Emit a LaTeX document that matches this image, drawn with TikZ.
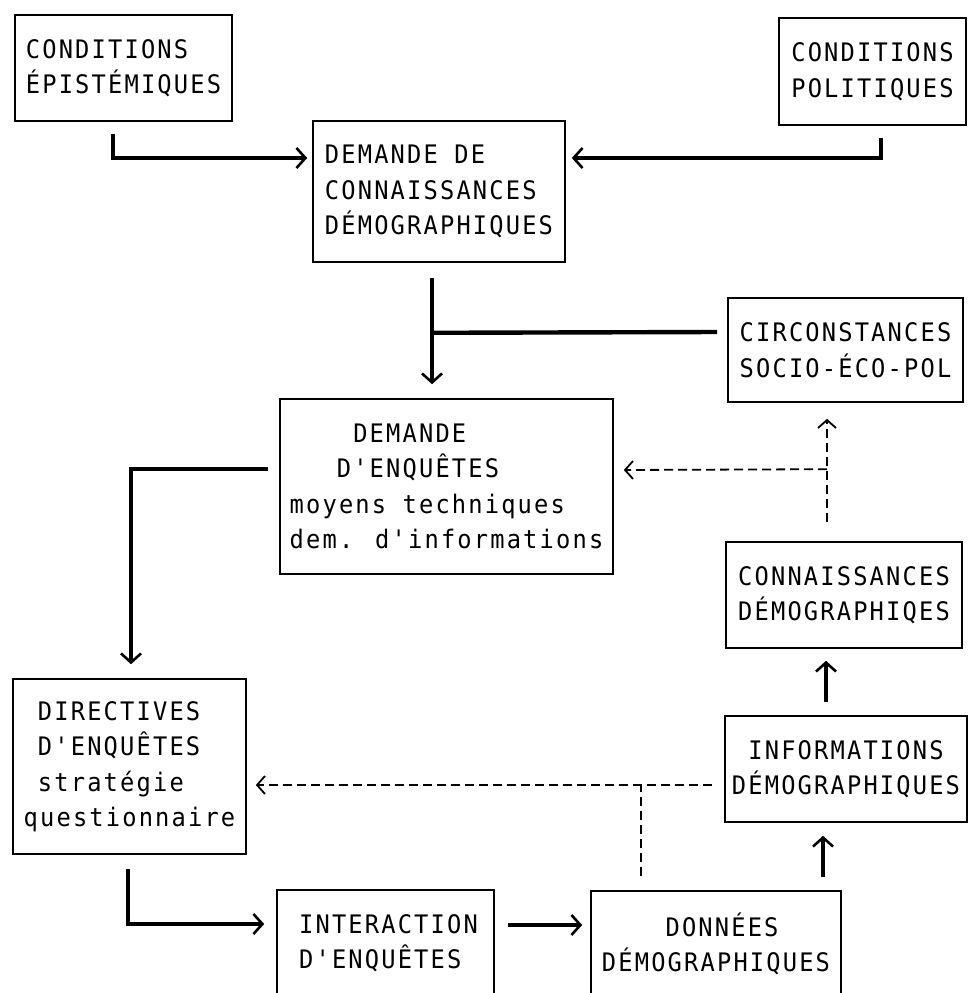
\documentclass[tikz,border=0pt]{standalone}
\usepackage{fontspec}
\newfontfamily\tw{DejaVu Sans Mono}[LetterSpace=8.5,FakeStretch=0.93]
\usetikzlibrary{arrows.meta,calc}
\begin{document}
\begin{tikzpicture}[x=1pt,y=-1pt,
  box/.style={draw,line width=1.6pt,inner sep=0pt,align=left,
    font={\tw\fontsize{25.5pt}{35.5pt}\selectfont}},
  thk/.style={line width=4.4pt},
  ah/.style={-{Straight Barb[length=9pt,width=20pt,line width=2.6pt]}},
  dsh/.style={line width=1.8pt,dash pattern=on 9pt off 5pt},
  ahd/.style={-{Straight Barb[length=8pt,width=18pt,line width=1.8pt]}}]
\useasboundingbox (0,0) rectangle (968,993);
\fill[white] (0,0) rectangle (968,993);

% boxes
\node[box,minimum width=217pt,minimum height=106pt] (epist) at (123.5,68) {CONDITIONS\\ÉPISTÉMIQUES};
\node[box,minimum width=187pt,minimum height=107pt] (polit) at (872.5,71.5) {CONDITIONS\\POLITIQUES};
\node[box,minimum width=252pt,minimum height=141pt] (dc) at (439,191.5) {DEMANDE DE\\CONNAISSANCES\\DÉMOGRAPHIQUES};
\node[box,minimum width=333pt,minimum height=175pt] (de) at (446.5,486.5)
  {\phantom{XXXX}DEMANDE\\\phantom{XXX}D'ENQUÊTES\\moyens techniques\\dem. d'informations};
\node[box,minimum width=235pt,minimum height=104pt] (circ) at (845.5,350) {CIRCONSTANCES\\SOCIO-ÉCO-POL};
\node[box,minimum width=236pt,minimum height=106pt] (conn) at (844,595) {CONNAISSANCES\\DÉMOGRAPHIQES};
\node[box,align=center,minimum width=242pt,minimum height=106pt] (info) at (846,769) {INFORMATIONS\\DÉMOGRAPHIQUES};
\node[box,minimum width=233pt,minimum height=175pt] (dir) at (129.5,766.5)
  {\phantom{X}DIRECTIVES\\\phantom{X}D'ENQUÊTES\\\phantom{X}stratégie\\questionnaire};
\node[box,minimum width=217pt,minimum height=106pt] (inter) at (385.5,943) {\hspace*{6pt}INTERACTION\\\hspace*{6pt}D'ENQUÊTES};
\node[box,minimum width=250pt,minimum height=106pt] (don) at (716,944) {\phantom{XXXX}DONNÉES\\DÉMOGRAPHIQUES};

% solid connectors
\draw[thk,ah] ($(epist.south)+(-10.5,12)$) |- ($(dc.west)+(-5,-33.5)$);
\draw[thk,ah] ($(polit.south)+(8.5,12)$) |- ($(dc.east)+(6,-33.5)$);
\draw[thk,ah] ($(dc.south)+(-7,15)$) -- ($(de.north)+(-14.5,-14)$);
\coordinate (jc) at ($(dc.south)+(-7,70)$);
\draw[thk] ($(circ.west)+(-10,-18)$) -- (jc);
\draw[thk,ah] ($(de.west)+(-11,-17.5)$) -| ($(dir.north)+(1.5,-14)$);
\draw[thk,ah] ($(dir.south)+(-1.5,14)$) |- ($(inter.west)+(-12,-19)$);
\draw[thk,ah] ($(inter.east)+(13,-18)$) -- ($(don.west)+(-8,-19)$);
\draw[thk,ah] ($(don.north)+(107,-13)$) -- ($(info.south)+(-23,13)$);
\draw[thk,ah] ($(info.north)+(-20,-13)$) -- ($(conn.south)+(-18,12)$);

% dashed connectors
\draw[dsh,ahd] ($(info.west)+(-12,16)$) -- ($(dir.east)+(9,18.5)$);
\coordinate (jd) at ($(don.north)+(-75,-106)$);
\draw[dsh] ($(don.north)+(-75,-14)$) -- (jd);
\draw[dsh,ahd] ($(conn.north)+(-17,-19)$) -- ($(circ.south)+(-18.5,16)$);
\coordinate (jk) at ($(conn.north)+(-17,-72)$);
\draw[dsh,ahd] (jk) -- ($(de.east)+(10,-16.5)$);
\end{tikzpicture}
\end{document}
